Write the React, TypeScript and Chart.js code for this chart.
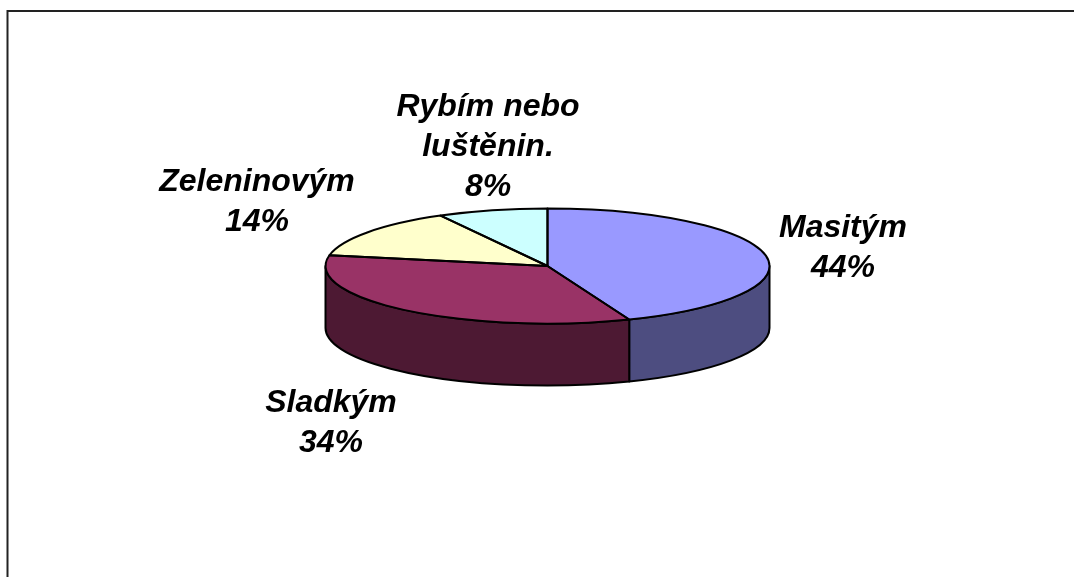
import React, { useEffect, useRef } from "react";
import { Chart, registerables } from "chart.js";

Chart.register(...registerables);

const categories = ["Masitým", "Sladkým", "Zeleninovým", "Rybím nebo luštěnin."];
const categoryLines = [["Masitým"], ["Sladkým"], ["Zeleninovým"], ["Rybím nebo", "luštěnin."]];
const values = [44, 34, 14, 8];
const topColors = ["#9999ff", "#993366", "#ffffcc", "#ccffff"];
const wallColors = ["#4d4d80", "#4d1933", "#808066", "#668080"];
const labelCenters = [
  [843, 237],
  [331, 412],
  [257, 191],
  [488, 116],
];

const W = 1074;
const H = 577;
const SQUASH = 57.5 / 222;
const DEPTH = 62;
const LINE_GAP = 40;

function arcs(chart: any) {
  return chart.getDatasetMeta(0).data.map((el: any) => el.getProps(["x", "y", "startAngle", "endAngle", "outerRadius"], true));
}

const pie3d = {
  id: "pie3d",
  beforeDraw(chart: any) {
    const { ctx } = chart;
    ctx.save();
    ctx.fillStyle = "#ffffff";
    ctx.fillRect(0, 0, W, H);
    ctx.strokeStyle = "#222222";
    ctx.lineWidth = 2;
    ctx.beginPath();
    ctx.moveTo(7.5, H + 2);
    ctx.lineTo(7.5, 11);
    ctx.lineTo(W + 2, 11);
    ctx.stroke();
    ctx.restore();
  },
  beforeDatasetsDraw(chart: any) {
    const { ctx } = chart;
    ctx.save();
    ctx.lineWidth = 2;
    ctx.strokeStyle = "#000000";
    ctx.lineJoin = "round";
    arcs(chart).forEach((a: any, i: number) => {
      const from = Math.max(a.startAngle, 0);
      const to = Math.min(a.endAngle, Math.PI);
      if (to <= from) return;
      const rx = a.outerRadius;
      const ry = rx * SQUASH;
      ctx.beginPath();
      ctx.ellipse(a.x, a.y, rx, ry, 0, from, to);
      ctx.ellipse(a.x, a.y + DEPTH, rx, ry, 0, to, from, true);
      ctx.closePath();
      ctx.fillStyle = wallColors[i];
      ctx.fill();
      ctx.stroke();
    });
    ctx.restore();
    const first = arcs(chart)[0];
    ctx.save();
    ctx.translate(first.x, first.y);
    ctx.scale(1, SQUASH);
    ctx.translate(-first.x, -first.y);
  },
  afterDatasetsDraw(chart: any) {
    const { ctx } = chart;
    ctx.restore();
    ctx.save();
    ctx.lineWidth = 2;
    ctx.strokeStyle = "#000000";
    ctx.lineJoin = "round";
    arcs(chart).forEach((a: any) => {
      const rx = a.outerRadius;
      ctx.beginPath();
      ctx.moveTo(a.x, a.y);
      ctx.ellipse(a.x, a.y, rx, rx * SQUASH, 0, a.startAngle, a.endAngle);
      ctx.closePath();
      ctx.stroke();
    });
    ctx.fillStyle = "#000000";
    ctx.font = "italic bold 32px 'Liberation Sans'";
    ctx.textAlign = "center";
    ctx.textBaseline = "alphabetic";
    values.forEach((v, i) => {
      const lines = [...categoryLines[i], `${v}%`];
      lines.forEach((t, k) => {
        ctx.fillText(t, labelCenters[i][0], labelCenters[i][1] + k * LINE_GAP);
      });
    });
    ctx.restore();
  },
};

export default function App() {
  const ref = useRef<HTMLCanvasElement>(null);
  useEffect(() => {
    const chart = new Chart(ref.current!, {
      type: "pie",
      data: {
        labels: categories,
        datasets: [{ data: values, backgroundColor: topColors, borderWidth: 0 }],
      },
      options: {
        animation: false,
        responsive: false,
        layout: { padding: { left: 325.5, right: 304.5, top: 44, bottom: 89 } },
        plugins: { legend: { display: false }, tooltip: { enabled: false }, title: { display: false } },
      },
      plugins: [pie3d],
    } as any);
    return () => chart.destroy();
  }, []);
  return (
    <div style={{ position: "fixed", left: 0, top: 0, width: W, height: H, overflow: "hidden", background: "#fff" }}>
      <canvas ref={ref} width={W} height={H} style={{ display: "block" }} />
    </div>
  );
}
